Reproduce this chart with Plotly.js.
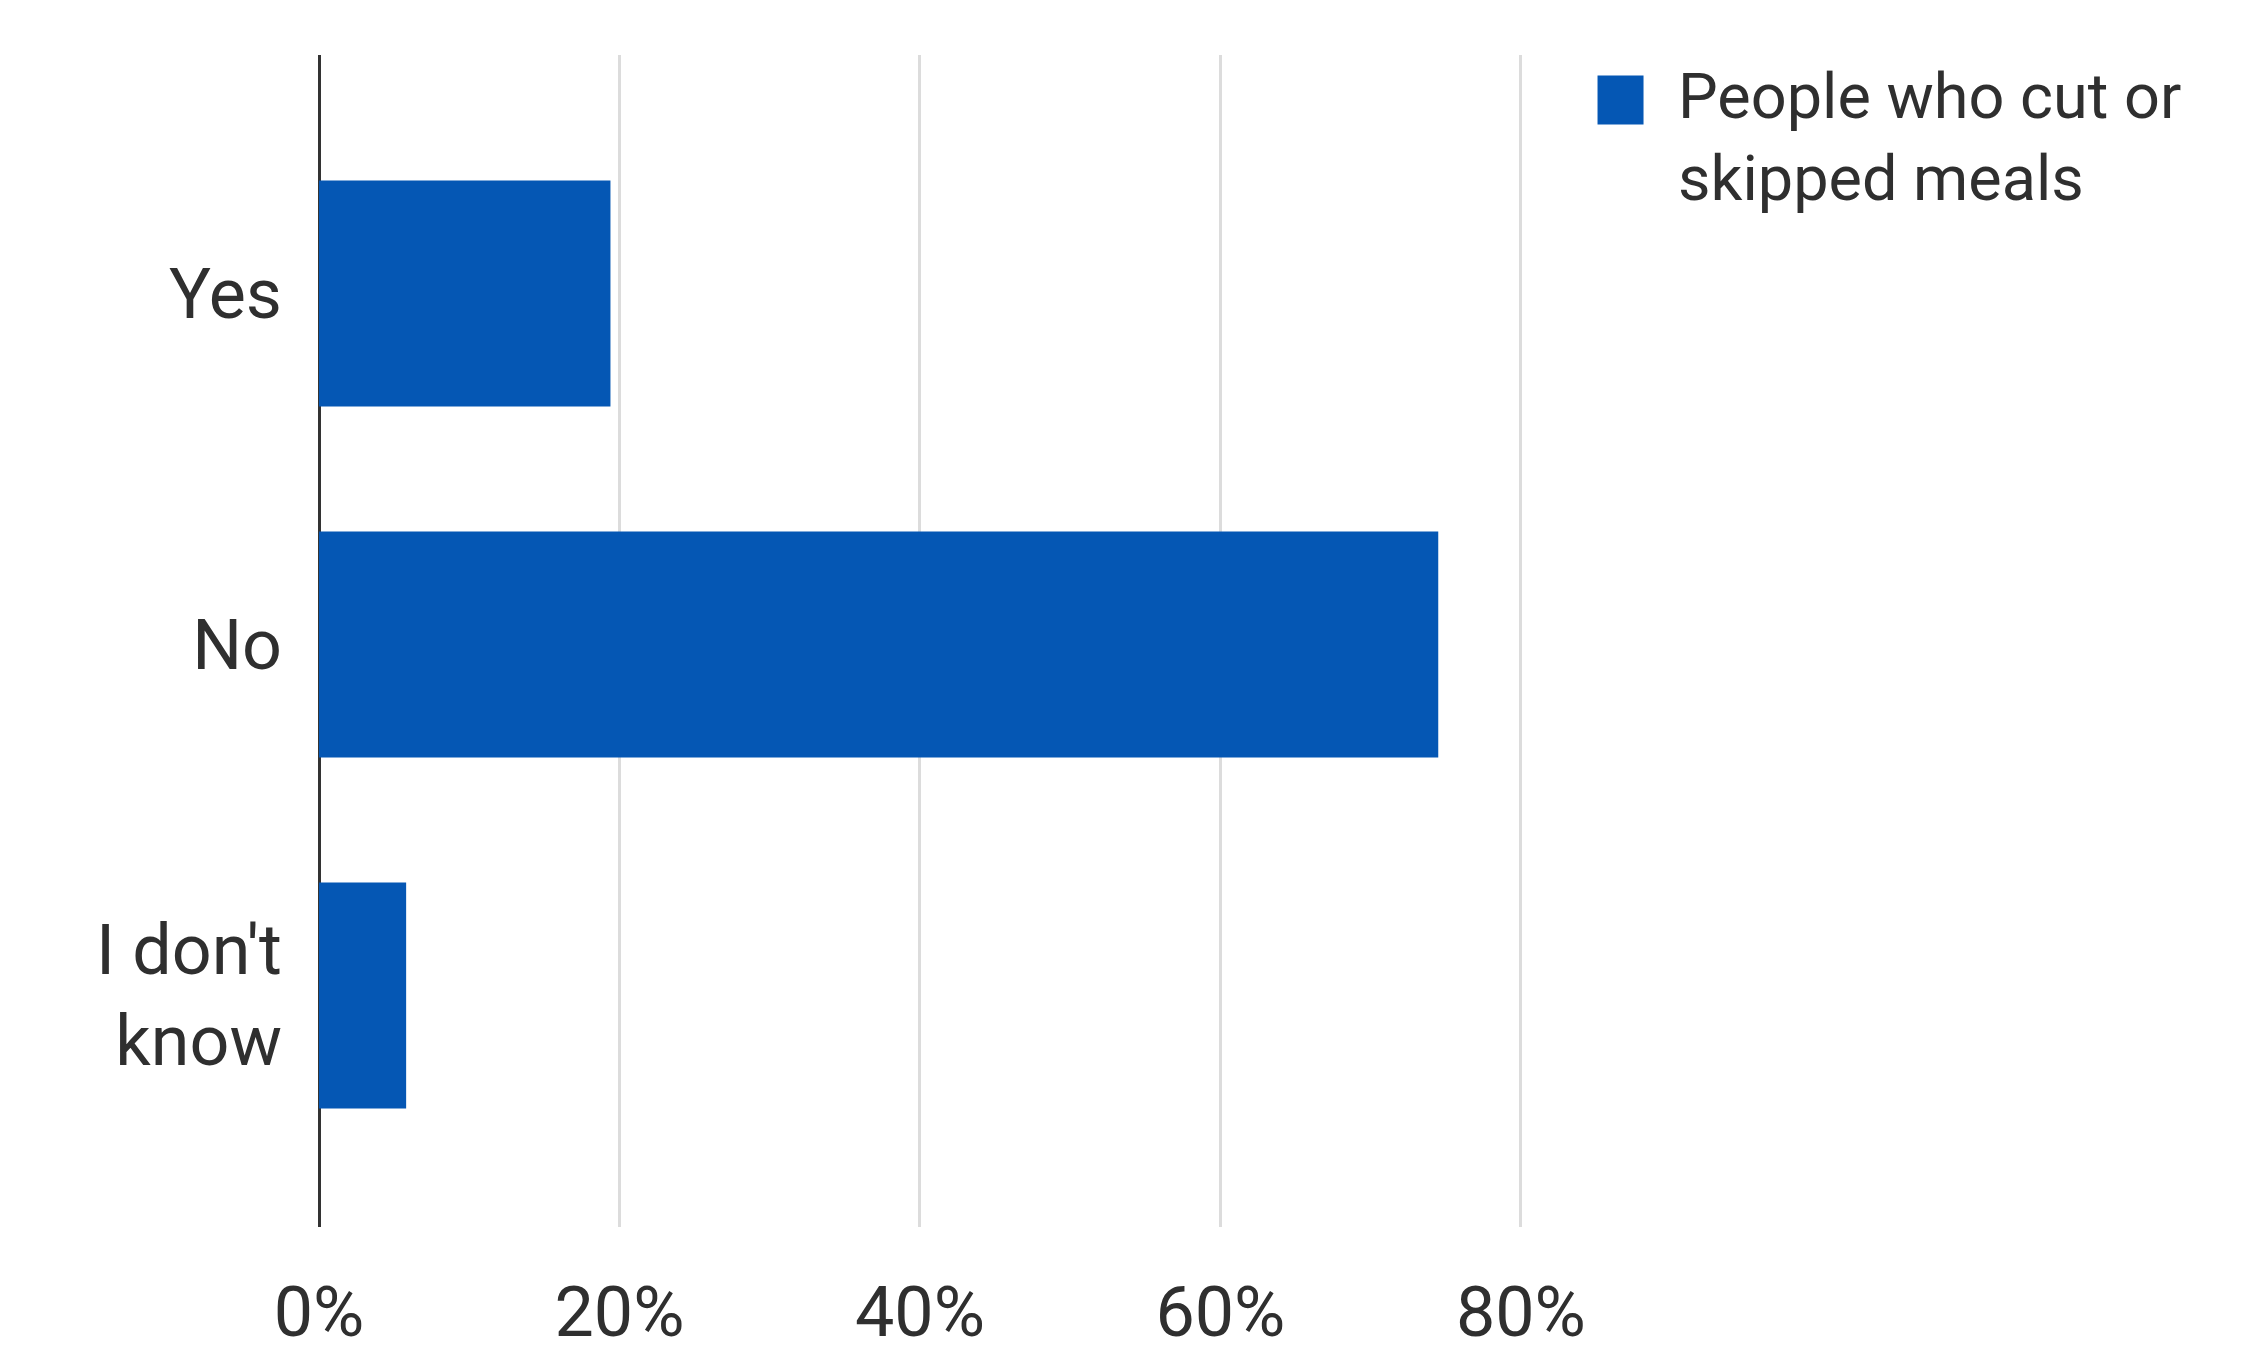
<!DOCTYPE html>
<html>
<head>
<meta charset="utf-8">
<script src="https://cdn.plot.ly/plotly-3.0.1.min.js"></script>
<style>
  html, body { margin: 0; padding: 0; background: #ffffff; }
  #chart { width: 2250px; height: 1355px; }
</style>
</head>
<body>
<div id="chart"></div>
<script>
// ---- data ----
const categories = ["Yes", "No", "I don't know"];
const categoryLabels = ["Yes", "No", "I don't<br>know"];
const values = [19.4, 74.5, 5.8];
const seriesName = "People who cut or<br>skipped meals";
const xTickValues = [0, 20, 40, 60, 80];

const textColor = "#2f2f2f";
const barColor = "#0557b4";
const fontFamily = "Roboto, 'Noto Sans', Arial, sans-serif";

const trace = {
  type: "bar",
  orientation: "h",
  y: categories,
  x: values,
  name: seriesName,
  marker: { color: barColor, line: { width: 0 } },
  hoverinfo: "x+y",
  showlegend: true
};

const layout = {
  width: 2250,
  height: 1355,
  paper_bgcolor: "#ffffff",
  plot_bgcolor: "#ffffff",
  font: { family: fontFamily, size: 70, color: textColor },
  margin: { l: 319, r: 654, t: 55, b: 128, pad: 0 },
  bargap: 0.356,
  showlegend: true,
  legend: {
    x: 1.0102,
    xanchor: "left",
    y: 1.008,
    yanchor: "top",
    valign: "top",
    itemwidth: 59,
    bgcolor: "rgba(0,0,0,0)",
    borderwidth: 0,
    font: { family: fontFamily, size: 63, color: textColor }
  },
  xaxis: {
    range: [0, 85],
    tickmode: "array",
    tickvals: xTickValues,
    ticktext: xTickValues.map(v => v + "%"),
    showgrid: true,
    gridcolor: "#dcdcdc",
    gridwidth: 3,
    zeroline: true,
    zerolinecolor: "#333333",
    zerolinewidth: 3,
    showline: false,
    ticks: "",
    ticklabelstandoff: 38,
    tickfont: { family: fontFamily, size: 70, color: textColor },
    fixedrange: true
  },
  yaxis: {
    type: "category",
    categoryorder: "array",
    categoryarray: categories,
    range: [2.66, -0.68],
    tickmode: "array",
    tickvals: categories,
    ticktext: categoryLabels,
    showgrid: false,
    zeroline: false,
    showline: false,
    ticks: "",
    ticklabelstandoff: 36,
    tickfont: { family: fontFamily, size: 70, color: textColor },
    fixedrange: true
  }
};

Plotly.newPlot("chart", [trace], layout, { staticPlot: true, displayModeBar: false }).then(function (gd) {
  // let the enlarged legend swatch overflow the legend's clip box
  const leg = gd.querySelector(".legend");
  if (leg) {
    leg.removeAttribute("clip-path");
    leg.querySelectorAll("[clip-path]").forEach(function (el) { el.removeAttribute("clip-path"); });
  }
  // enlarge the legend swatch to match the reference's large square
  gd.querySelectorAll(".legend .legendpoints path").forEach(function (p) {
    p.removeAttribute("transform");
    p.setAttribute("d", "M-11.5,-17.5H34.5V31.5H-11.5Z");
  });
});
</script>
</body>
</html>
